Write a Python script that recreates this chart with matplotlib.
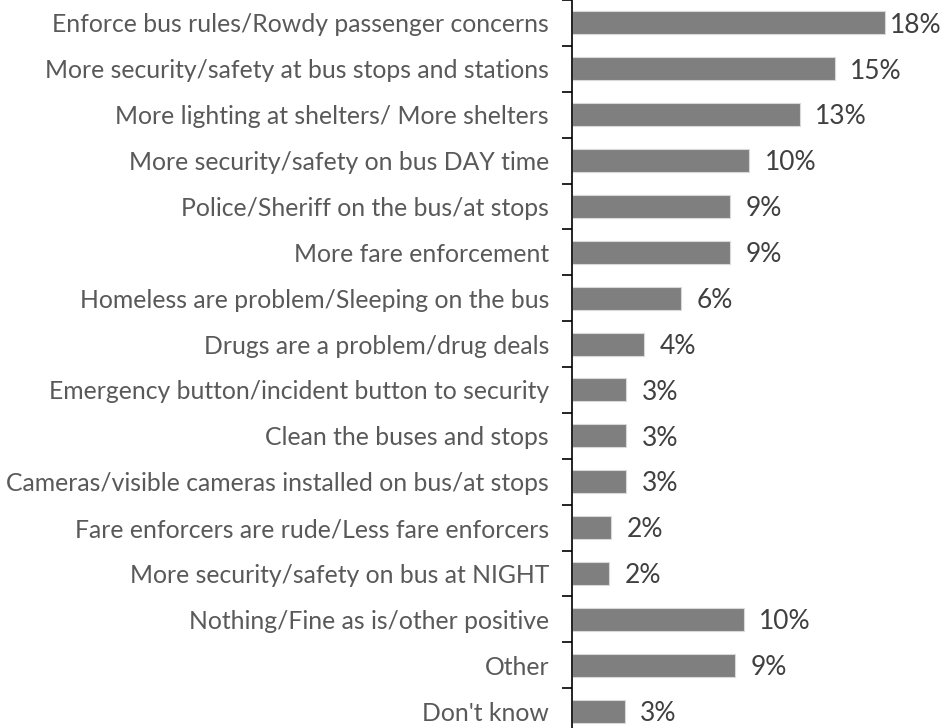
import matplotlib.pyplot as plt

categories = [
    "Enforce bus rules/Rowdy passenger concerns",
    "More security/safety at bus stops and stations",
    "More lighting at shelters/ More shelters",
    "More security/safety on bus DAY time",
    "Police/Sheriff on the bus/at stops",
    "More fare enforcement",
    "Homeless are problem/Sleeping on the bus",
    "Drugs are a problem/drug deals",
    "Emergency button/incident button to security",
    "Clean the buses and stops",
    "Cameras/visible cameras installed on bus/at stops",
    "Fare enforcers are rude/Less fare enforcers",
    "More security/safety on bus at NIGHT",
    "Nothing/Fine as is/other positive",
    "Other",
    "Don't know",
]
values = [17.9, 15.0, 13.0, 10.1, 9.0, 9.0, 6.2, 4.1, 3.1, 3.1, 3.1, 2.2, 2.1, 9.8, 9.3, 3.0]
labels = ["18%", "15%", "13%", "10%", "9%", "9%", "6%", "4%", "3%", "3%", "3%", "2%", "2%", "10%", "9%", "3%"]

plt.rcParams["font.family"] = ["Lato", "DejaVu Sans"]

fig = plt.figure(figsize=(9.42, 7.28), dpi=100)
W, H = 942, 728
left_px = 572
ax = fig.add_axes([left_px / W, -6 / H, 1 - left_px / W, 734 / H])

ypos = list(range(len(categories)))
ax.barh(ypos, values, height=0.5, color="#7f7f7f", edgecolor="#d9d9d9", linewidth=0.8)
ax.set_ylim(len(categories) - 0.5, -0.5)
ax.set_xlim(0, (W - left_px) / 17.5)

# value labels, the widest one gets pushed in to stay inside the figure
for y, v, t in zip(ypos, values, labels):
    ax.text(min(v + 0.9, 18.15), y + 0.05, t, va="center", ha="left", fontsize=19, color="#404040")

ax.set_yticks(ypos)
ax.set_yticklabels(categories, fontsize=17.8, color="#595959")
ax.tick_params(axis="y", length=0, pad=16.5)
ax.set_yticks([i + 0.5 for i in range(-1, len(categories))], minor=True)
ax.tick_params(axis="y", which="minor", length=7, width=1.2, color="black", direction="out")
ax.set_xticks([])
for s in ["top", "right", "bottom"]:
    ax.spines[s].set_visible(False)
ax.spines["left"].set_linewidth(1.2)
ax.spines["left"].set_color("black")

fig.savefig("out.png", dpi=100)
